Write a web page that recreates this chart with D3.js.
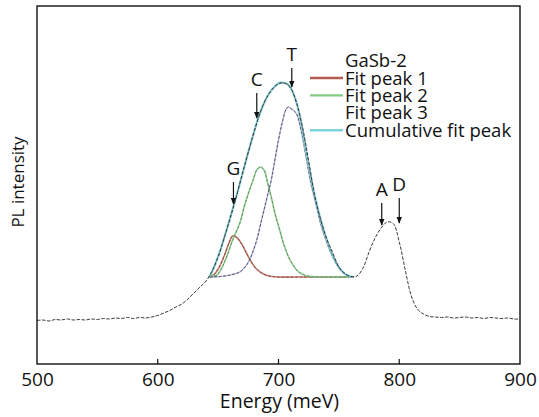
<!DOCTYPE html>
<html>
<head>
<meta charset="utf-8">
<script src="https://cdn.jsdelivr.net/npm/d3@7"></script>
<style>
  body { margin: 0; background: #fff; }
  text { font-family: "Open Sans", sans-serif; fill: #111; }
</style>
</head>
<body>
<script>
// measured PL spectrum (energy in meV, intensity in a.u.)
var energy = [500,505,510,515,520,525,530,535,540,545,550,555,560,565,570,575,580,585,590,595,
  600,605,610,615,620,625,630,635,640,645,650,655,660,665,670,675,680,685,690,695,
  700,705,710,715,720,725,730,735,740,745,750,755,760,765,770,775,780,785,790,795,
  800,805,810,815,820,825,830,835,840,845,850,855,860,865,870,875,880,885,890,895,900];
var intensity = [43.5,44,43,44.5,44,45,44,44.5,44,45,44.5,45.5,45,46,45.5,46.5,45.5,46.5,46,47,
  48.5,51,53.5,57,60,65,71,77,83,93,107,126,146,167,190,212,233,252,266,275,
  280,281,276,261,236,203,168,144,125,111,97,90.5,87.5,88,96,112,126,136,142,140.5,
  122,94,68,55,50,47.5,47,46.5,47,46,46.5,47,46,46.5,45.5,46.5,46,45.5,46,45,45];

// fitted components
var peak1E = [643,647,651,655,659,662,665,669,673,677,681,686,692,700,720,740,762];
var peak1I = [87,90,97,108,121,128,127,121,112,103,96,91,88,87,87,87,87];
var peak2E = [643,649,653,657,662,668,672,676,679,682,685,688,691,694,697,701,704,708,711,715,718,724,735,762];
var peak2I = [87,89,96,107,124,141,159,174,184,194,197,194,181,167,151,134,121,108,101,94,91,88,87,87];
var peak3E = [643,652,660,668,673,676,679,682,685,688,691,694,697,700,703,706,708,711,715,719,723,727,731,735,739,743,747,751,755,759,762];
var peak3I = [87,87.5,89,92,98,104,113,124,139,154,169,184,204,224,241,254,257,255,250,232,206,180,160,140,125,112,102,94.5,90,87.5,87];
var cumE = [643,647,651,655,659,663,667,671,675,679,683,687,691,695,699,702,705,708,711,715,719,723,727,731,735,739,743,747,751,755,759,762];
var cumI = [87,98,111,126,142,159,176,194,212,229,245,258,268,275,280,281.5,281,279.5,274,261,240,212,186,163,144,128,114,103,95,90,87.5,87];

var xTicks = [500, 600, 700, 800, 900];

// arrow annotations: label, energy, arrow top, arrow tip
var markLabels = ["G", "C", "T", "A", "D"];
var markE = [662.7, 682, 711, 785.5, 800];
var markTop = [182, 271, 296, 161, 166];
var markTip = [160, 246, 277, 139, 141];

var legendNames = ["Fit peak 1", "Fit peak 2", "Fit peak 3", "Cumulative fit peak"];
var legendColors = ["#b55a4e", "#85cc85", null, "#80d2da"];
var curveColors = ["#c07060", "#8ccf8c", "#6e6e9e", "#86d4dc"];

var W = 539, H = 417;
var margin = { top: 6, right: 19, bottom: 53, left: 37 };
var width = W - margin.left - margin.right,
    height = H - margin.top - margin.bottom;

var svg = d3.select("body").append("svg")
    .attr("width", W)
    .attr("height", H)
  .append("g")
    .attr("transform", "translate(" + margin.left + "," + margin.top + ")");

var x = d3.scaleLinear().domain([500, 900]).range([0, width]);
var y = d3.scaleLinear().domain([0, 358]).range([height, 0]);

var defs = svg.append("defs");
defs.append("marker")
    .attr("id", "head")
    .attr("viewBox", "0 0 10 10")
    .attr("refX", 9).attr("refY", 5)
    .attr("markerWidth", 7).attr("markerHeight", 8)
    .attr("markerUnits", "userSpaceOnUse")
    .attr("orient", "auto")
  .append("path")
    .attr("d", "M0,1L10,5L0,9Z")
    .attr("fill", "#111");

var line = d3.line()
    .x(function (d) { return x(d[0]); })
    .y(function (d) { return y(d[1]); })
    .curve(d3.curveCatmullRom);

function pairs(xs, ys) { return xs.map(function (v, i) { return [v, ys[i]]; }); }

var fits = [pairs(peak1E, peak1I), pairs(peak2E, peak2I), pairs(peak3E, peak3I), pairs(cumE, cumI)];

// soft coloured halo then dashed stroke, like the original scan
fits.forEach(function (f, i) {
  svg.append("path").datum(f)
      .attr("fill", "none")
      .attr("stroke", curveColors[i])
      .attr("stroke-opacity", i == 2 ? 0.35 : 0.85)
      .attr("stroke-width", i == 3 ? 2.4 : 1.6)
      .attr("d", line);
  svg.append("path").datum(f)
      .attr("fill", "none")
      .attr("stroke", i == 2 ? "#55557f" : d3.color(curveColors[i]).darker(1))
      .attr("stroke-width", 1)
      .attr("stroke-dasharray", "3,1.5")
      .attr("d", line);
});

svg.append("path").datum(pairs(energy, intensity))
    .attr("fill", "none")
    .attr("stroke", "#3a3a3a")
    .attr("stroke-width", 1)
    .attr("stroke-dasharray", "3.5,1.5")
    .attr("d", line);

// annotations
markLabels.forEach(function (m, i) {
  svg.append("line")
      .attr("x1", x(markE[i])).attr("x2", x(markE[i]))
      .attr("y1", y(markTop[i])).attr("y2", y(markTip[i]))
      .attr("stroke", "#111").attr("stroke-width", 1.2)
      .attr("marker-end", "url(#head)");
  svg.append("text")
      .attr("x", x(markE[i])).attr("y", y(markTop[i]) - 7)
      .attr("text-anchor", "middle")
      .style("font-size", "19px")
      .text(m);
});

// legend
var lg = svg.append("g").attr("transform", "translate(" + (345 - margin.left) + "," + (67 - margin.top) + ")");
lg.append("text").attr("x", 0).attr("y", 0).style("font-size", "18.5px").text("GaSb-2");
legendNames.forEach(function (n, i) {
  var yy = 17.5 + i * 17.4;
  if (legendColors[i]) {
    lg.append("line")
        .attr("x1", -35).attr("x2", -2)
        .attr("y1", yy - 6.5).attr("y2", yy - 6.5)
        .attr("stroke", legendColors[i]).attr("stroke-width", 2.4);
  }
  lg.append("text").attr("x", 0).attr("y", yy).style("font-size", "18.5px").text(n);
});

// axes and frame
var xAxis = d3.axisBottom(x).tickValues(xTicks).tickSize(0).tickPadding(9);
var gx = svg.append("g")
    .attr("transform", "translate(0," + height + ")")
    .call(xAxis);
gx.select(".domain").remove();
gx.selectAll("text").style("font-size", "19px").attr("fill", "#111").attr("font-family", "Open Sans");

svg.selectAll(".tick-in")
    .data(xTicks.slice(1, -1))
  .enter().append("line")
    .attr("x1", function (d) { return x(d); })
    .attr("x2", function (d) { return x(d); })
    .attr("y1", height).attr("y2", height - 5)
    .attr("stroke", "#111").attr("stroke-width", 1.2);

svg.append("rect")
    .attr("width", width).attr("height", height)
    .attr("fill", "none").attr("stroke", "#111").attr("stroke-width", 1.4);

svg.append("text")
    .attr("x", width / 2 + 1).attr("y", height + 44)
    .attr("text-anchor", "middle")
    .style("font-size", "19.5px")
    .text("Energy (meV)");

svg.append("text")
    .attr("transform", "rotate(-90)")
    .attr("x", -176).attr("y", -13)
    .attr("text-anchor", "middle")
    .style("font-size", "17px")
    .text("PL intensity");
</script>
</body>
</html>
